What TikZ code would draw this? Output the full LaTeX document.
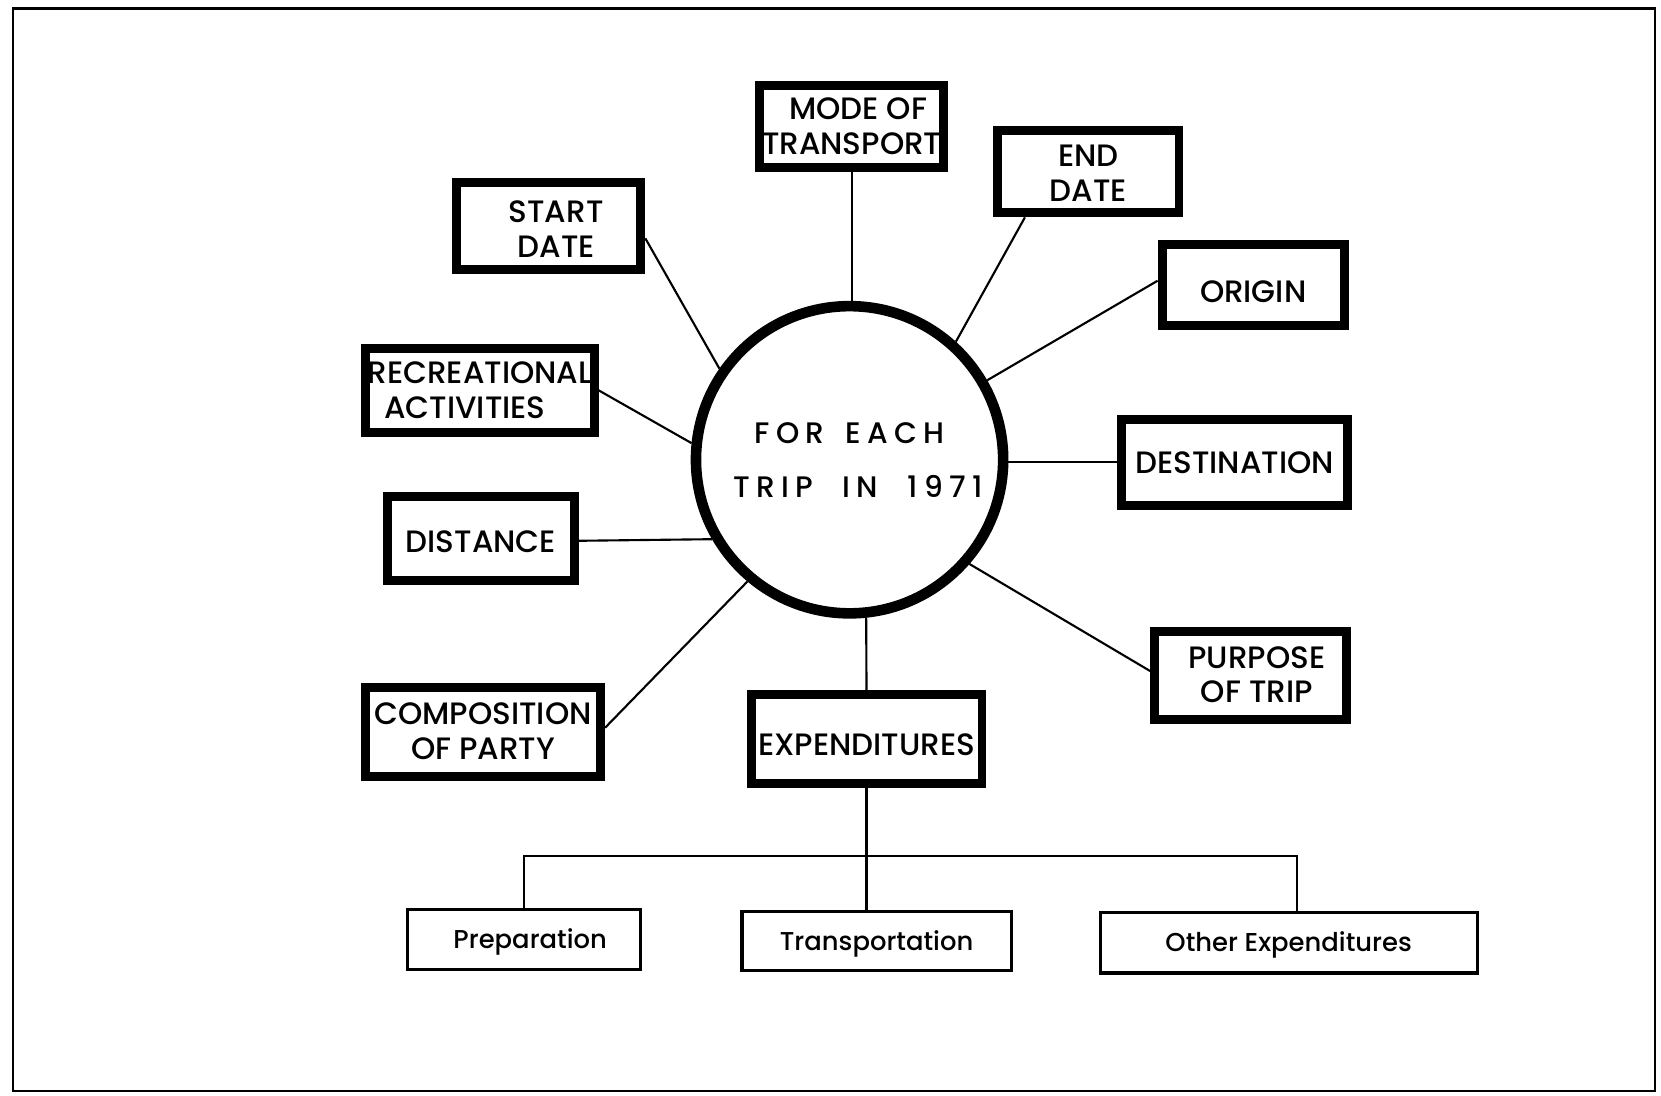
\documentclass[tikz,border=0pt]{standalone}
\usepackage{fontspec}
\setmainfont{Poppins Medium}
\newcommand\lowr[2]{\raisebox{-#1}[\height][\depth]{#2}}
\newcommand\twol[2]{\lowr{1.5pt}{\begin{tabular}{@{}c@{}}#1\\#2\end{tabular}}}
\begin{document}
\begin{tikzpicture}[x=0.5pt,y=-0.5pt,
  bigbox/.style={draw, line width=4.2pt, inner sep=0pt, align=center,
    font=\fontsize{14.6}{16.5}\selectfont},
  smallbox/.style={draw, line width=1.5pt, inner sep=0pt, text height=8.5pt, text depth=0pt,
    font=\fontsize{12.2}{14}\selectfont},
  link/.style={line width=1pt}]
\useasboundingbox (0,0) rectangle (1568,1034);
\draw[line width=1pt] (12,8) rectangle (1562,1030);

\node[circle, draw, line width=5pt, minimum size=145pt, inner sep=0pt, align=center,
  font=\fontsize{14}{25.5}\selectfont\addfontfeature{LetterSpace=21}] (c) at (802,434)
  {FOR\hspace{10pt}EACH\\\hspace{8pt}TRIP\hspace{14pt}IN\hspace{14pt}1971};

\node[bigbox, minimum width=87pt, minimum height=38.5pt] (mode) at (804,119.5) {\twol{\hspace*{6pt}MODE OF}{TRANSPORT}};
\node[bigbox, minimum width=87pt, minimum height=41pt] (start) at (518,213) {\lowr{2pt}{\twol{\hspace*{7pt}START}{\hspace*{7pt}DATE}}};
\node[bigbox, minimum width=85.5pt, minimum height=39pt] (end) at (1027.5,162) {\lowr{1pt}{\twol{END}{DATE}}};
\node[bigbox, minimum width=86pt, minimum height=38pt] (origin) at (1183,269) {\lowr{3pt}{ORIGIN}};
\node[bigbox, minimum width=108pt, minimum height=39.5pt] (recr) at (453,368.5) {\twol{RECREATIONAL}{ACTIVITIES\hspace*{14pt}}};
\node[bigbox, minimum width=106.5pt, minimum height=40.5pt] (dest) at (1165.5,436.5) {DESTINATION};
\node[bigbox, minimum width=88pt, minimum height=39.5pt] (dist) at (454,508.5) {\lowr{1.5pt}{DISTANCE}};
\node[bigbox, minimum width=90.5pt, minimum height=41.5pt] (purp) at (1180.5,637.5) {\twol{\hspace*{6pt}PURPOSE}{\hspace*{6pt}OF TRIP}};
\node[bigbox, minimum width=111pt, minimum height=42pt] (comp) at (456,691) {\twol{COMPOSITION}{OF PARTY}};
\node[bigbox, minimum width=109pt, minimum height=42pt] (exp) at (818,698) {\lowr{2.5pt}{EXPENDITURES}};

\node[smallbox, minimum width=110pt, minimum height=28.5pt] (prep) at (494.5,887) {\hspace*{6pt}Preparation};
\node[smallbox, minimum width=127pt, minimum height=28pt] (trans) at (827.5,888.5) {Transportation};
\node[smallbox, minimum width=178pt, minimum height=28.5pt] (other) at (1216.5,890) {Other Expenditures};

\draw[link] (mode.south) -- (mode.south |- c.north);
\draw[link] ([yshift=-6pt]start.east) -- (c.145);
\draw[link] ([xshift=-30pt]end.south) -- (c.48);
\draw[link] ([yshift=2pt]origin.west) -- (c.30);
\draw[link] (recr.east) -- (c.174);
\draw[link] (dest.west) -- (c.0 |- dest.west);
\draw[link] ([yshift=-1pt]dist.east) -- (c.210);
\draw[link] ([yshift=2pt]purp.west) -- (c.-41);
\draw[link] ([yshift=2pt]comp.east) -- (c.230);
\draw[link] (exp.north) -- (c.276);

\coordinate (bar) at (817,808);
\draw[link] (exp.south) -- (exp.south |- trans.north);
\draw[link] (prep.north) -- (prep.north |- bar) -- ([xshift=4pt]other.north |- bar) -- ([xshift=4pt]other.north);
\end{tikzpicture}
\end{document}
